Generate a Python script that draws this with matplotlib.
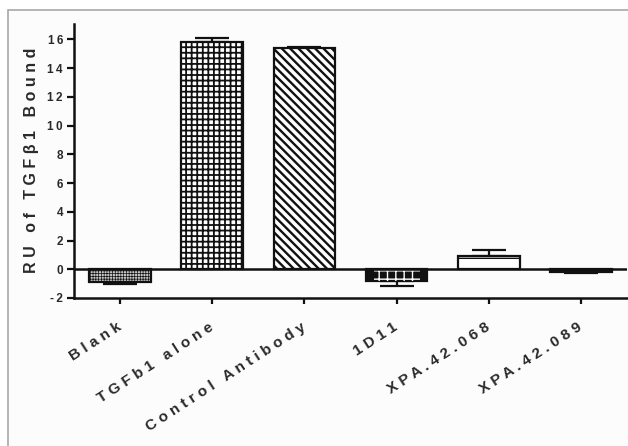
import matplotlib
matplotlib.use('Agg')
import matplotlib.pyplot as plt
from matplotlib.patches import Rectangle
import numpy as np

plt.rcParams['font.family'] = ['Liberation Sans', 'DejaVu Sans']
plt.rcParams['font.weight'] = 'bold'

# Data
labels = ['Blank', 'TGFb1 alone', 'Control Antibody', '1D11', 'XPA.42.068', 'XPA.42.089']
values = [-0.92, 15.82, 15.4, -0.82, 0.95, -0.22]
errors = [0.12, 0.3, 0.05, 0.32, 0.38, 0.05]
yticks = [-2, 0, 2, 4, 6, 8, 10, 12, 14, 16]

# Bar styles: face, hatch, hatch line width
styles = [
    ('#c4c4c4', '++++++', 0.5),
    ('white', '+++', 1.3),
    ('white', '\\\\\\\\', 1.7),
    ('#111111', None, 1.0),
    ('white', '-', 1.0),
    ('#111111', None, 1.0),
]

text_color = '#2a2a2a'


def spaced(s, gap=' '):
    # letter spaced text like the original figure
    return gap.join(list(s))


fig = plt.figure(figsize=(6.28, 4.46), dpi=100, facecolor='white')
# light grey frame round the figure (top and left edges visible)
fig.patches.append(Rectangle((8 / 628, -0.1), 1.2, 1 - 10 / 446 + 0.1,
                             transform=fig.transFigure, facecolor='#fcfcfc',
                             edgecolor='#a8a8a8', linewidth=1.2, zorder=-1))

ax = fig.add_axes([74 / 628, 1 - 298 / 446, (627 - 74) / 628, (298 - 23.5) / 446])
ax.set_facecolor('none')

x = np.arange(len(labels))
lower = [e if v < 0 else 0 for v, e in zip(values, errors)]
upper = [e if v >= 0 else 0 for v, e in zip(values, errors)]

for i, (v, st) in enumerate(zip(values, styles)):
    face, hatch, hlw = st
    plt.rcParams['hatch.linewidth'] = hlw
    b = ax.bar(x[i], v, width=0.67, color=face, edgecolor='#111111',
               linewidth=1.6, hatch=hatch, zorder=2)
    for p in b:
        if hasattr(p, 'set_hatch_linewidth'):
            p.set_hatch_linewidth(hlw)

# 1D11 has a white pattern over black
plt.rcParams['hatch.linewidth'] = 1.0
b = ax.bar(x[3], values[3], width=0.5, fill=False, edgecolor='white',
           linewidth=0, hatch='++', zorder=3)
for p in b:
    if hasattr(p, 'set_hatch_linewidth'):
        p.set_hatch_linewidth(1.0)

ax.errorbar(x, values, yerr=[lower, upper], fmt='none', ecolor='#111111',
            elinewidth=1.6, capsize=12, capthick=1.6, zorder=1)

ax.axhline(0, color='#111111', linewidth=1.8, zorder=4)

ax.set_xlim(-0.5, 5.5)
ax.set_ylim(-2, 17.1)
ax.set_yticks(yticks)
ax.set_yticklabels([spaced(str(t), '\u2009') for t in yticks], fontsize=8.5,
                   color=text_color, fontweight='bold')
ax.set_xticks(x)
ax.set_xticklabels([spaced(l) for l in labels], fontsize=11,
                   rotation=33, ha='right', va='center', rotation_mode='anchor',
                   color=text_color, fontweight='bold')

for side in ['top', 'right']:
    ax.spines[side].set_visible(False)
for side in ['left', 'bottom']:
    ax.spines[side].set_linewidth(1.8)
    ax.spines[side].set_color('#111111')

ax.tick_params(axis='y', length=5, width=1.6, pad=3, color='#111111')
ax.tick_params(axis='x', length=4, width=1.6, pad=16, color='#111111')

ax.set_ylabel(spaced('RU of TGF\u03b21 Bound'), fontsize=11.5,
              fontweight='bold', color=text_color, labelpad=6)

plt.savefig('out.png', dpi=100)
